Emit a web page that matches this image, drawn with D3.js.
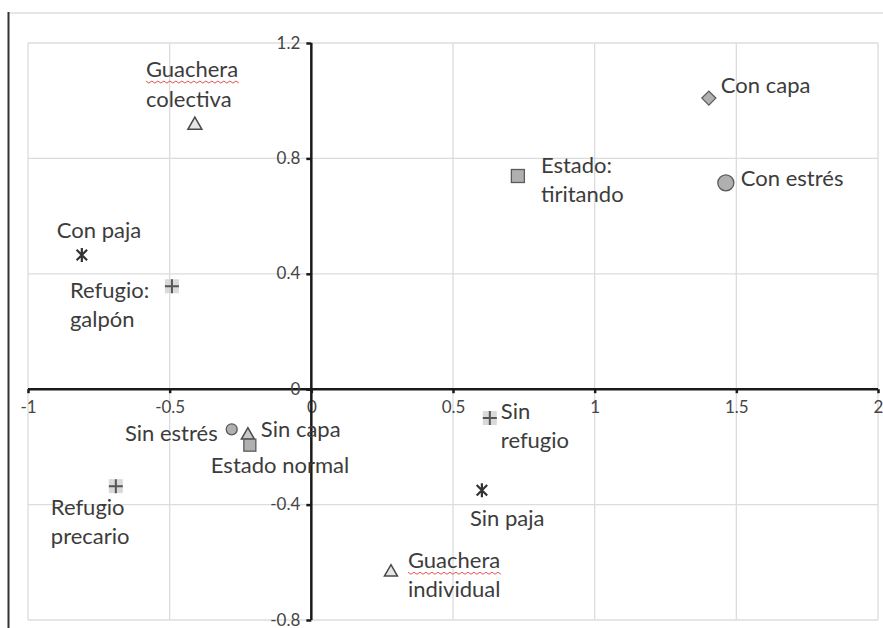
<!DOCTYPE html>
<html lang="es">
<head>
<meta charset="UTF-8">
<title>Análisis de correspondencias</title>
<script src="https://d3js.org/d3.v7.min.js"></script>
<style>
  body { margin: 0; background: #fff; }
  text { font-family: Lato, "Open Sans", sans-serif; }
</style>
</head>
<body>
<svg id="chart" width="883" height="628"></svg>
<script>
// data
const labels = ["Guachera colectiva", "Con capa", "Con estrés", "Estado: tiritando", "Con paja",
  "Refugio: galpón", "Sin estrés", "Sin capa", "Estado normal", "Sin refugio",
  "Refugio precario", "Sin paja", "Guachera individual"];
const xValues = [-0.411, 1.403, 1.463, 0.729, -0.81, -0.492, -0.281, -0.224, -0.217, 0.63, -0.69, 0.602, 0.281];
const yValues = [0.919, 1.009, 0.715, 0.739, 0.465, 0.357, -0.139, -0.156, -0.194, -0.10, -0.336, -0.35, -0.631];
const markers = ["triangle", "diamond", "circle", "square", "star", "plus", "circle", "triangle", "square", "plus", "plus", "star", "triangle"];
const xTicks = [-1, -0.5, 0, 0.5, 1, 1.5, 2];
const yTicks = [-0.8, -0.4, 0, 0.4, 0.8, 1.2];

// label placement: lines, dx, baseline dy of each line, anchor
const labelLayout = [
  { lines: ["Guachera", "colectiva"], dx: -49, dy: [-47, -17], anchor: "start", squiggle: true },
  { lines: ["Con capa"], dx: 12, dy: [-5], anchor: "start" },
  { lines: ["Con estrés"], dx: 15, dy: [3], anchor: "start" },
  { lines: ["Estado:", "tiritando"], dx: 23, dy: [-3, 26], anchor: "start" },
  { lines: ["Con paja"], dx: -25, dy: [-17], anchor: "start" },
  { lines: ["Refugio:", "galpón"], dx: -102, dy: [12, 41], anchor: "start" },
  { lines: ["Sin estrés"], dx: -14, dy: [12], anchor: "end" },
  { lines: ["Sin capa"], dx: 13, dy: [3], anchor: "start" },
  { lines: ["Estado normal"], dx: -39, dy: [28], anchor: "start" },
  { lines: ["Sin", "refugio"], dx: 11, dy: [1, 30], anchor: "start" },
  { lines: ["Refugio", "precario"], dx: -65, dy: [29, 58], anchor: "start" },
  { lines: ["Sin paja"], dx: -12, dy: [36], anchor: "start" },
  { lines: ["Guachera", "individual"], dx: 17, dy: [-3, 26], anchor: "start", squiggle: true }
];
const markerSize = [7, 7, 8, 6.5, 7, 7, 5.5, 6.5, 6, 7, 7, 7, 6.5];

const svg = d3.select("#chart");
const x = d3.scaleLinear().domain([-1, 2]).range([28, 878]);
const y = d3.scaleLinear().domain([-0.8, 1.2]).range([620, 43]);

// frame of the screenshot
svg.append("line").attr("x1", 8).attr("x2", 883).attr("y1", 13).attr("y2", 13)
  .attr("stroke", "#dedede").attr("stroke-width", 1.5);
svg.append("line").attr("x1", 8.5).attr("x2", 8.5).attr("y1", 12).attr("y2", 628)
  .attr("stroke", "#333").attr("stroke-width", 2);

// grid
const grid = svg.append("g").attr("stroke", "#dcdcdc").attr("stroke-width", 1.3);
grid.selectAll("line.v").data(xTicks).join("line")
  .attr("x1", d => x(d)).attr("x2", d => x(d)).attr("y1", y(1.2)).attr("y2", y(-0.8));
grid.selectAll("line.h").data(yTicks).join("line")
  .attr("x1", x(-1)).attr("x2", x(2)).attr("y1", d => y(d)).attr("y2", d => y(d));

// axes through the origin
const fmt = d => String(d);
const xAxis = svg.append("g").attr("transform", `translate(0,${y(0)})`)
  .call(d3.axisBottom(x).tickValues(xTicks).tickSize(4).tickPadding(8).tickFormat(fmt));
const yAxis = svg.append("g").attr("transform", `translate(${x(0)},0)`)
  .call(d3.axisLeft(y).tickValues(yTicks).tickSize(5).tickPadding(6).tickFormat(fmt));
[xAxis, yAxis].forEach(a => {
  a.select(".domain").attr("stroke", "#1a1a1a").attr("stroke-width", 2.5);
  a.selectAll(".tick line").attr("stroke", "#1a1a1a").attr("stroke-width", 2.5);
  a.selectAll(".tick text").attr("fill", "#454545").style("font-size", "17px")
    .style("font-family", "Lato, sans-serif");
});
xAxis.select(".domain").attr("d", `M${x(-1)},0H${x(2)}`);
yAxis.select(".domain").attr("d", `M0,${y(1.2)}V${y(-0.8)}`);
yAxis.selectAll(".tick text").attr("dy", "0.3em");

// markers
const pts = labels.map((l, i) => ({ label: l, x: xValues[i], y: yValues[i], m: markers[i], s: markerSize[i], lay: labelLayout[i] }));
const g = svg.append("g");
pts.forEach(p => {
  const cx = x(p.x), cy = y(p.y), s = p.s;
  const mg = g.append("g").attr("transform", `translate(${cx},${cy})`);
  if (p.m === "circle") {
    mg.append("circle").attr("r", s).attr("fill", "#b0b0b0").attr("stroke", "#5a5a5a").attr("stroke-width", 1.3);
  } else if (p.m === "diamond") {
    mg.append("path").attr("d", `M0,${-s}L${s},0L0,${s}L${-s},0Z`)
      .attr("fill", "#b0b0b0").attr("stroke", "#5a5a5a").attr("stroke-width", 1.3);
  } else if (p.m === "square") {
    mg.append("rect").attr("x", -s).attr("y", -s).attr("width", 2 * s).attr("height", 2 * s)
      .attr("fill", "#b0b0b0").attr("stroke", "#5a5a5a").attr("stroke-width", 1.3);
  } else if (p.m === "triangle") {
    mg.append("path").attr("d", `M0,${-s}L${s},${s * 0.75}L${-s},${s * 0.75}Z`)
      .attr("fill", p.label === "Sin capa" ? "#c8c8c8" : "#e6e6e6").attr("stroke", "#4a4a4a").attr("stroke-width", 1.5);
  } else if (p.m === "plus") {
    mg.append("rect").attr("x", -s).attr("y", -s).attr("width", 2 * s).attr("height", 2 * s)
      .attr("fill", "#cfcfcf").attr("opacity", 0.8);
    mg.append("path").attr("d", `M${-s},0H${s}M0,${-s}V${s}`).attr("stroke", "#555").attr("stroke-width", 2);
  } else if (p.m === "star") {
    const k = s * 0.75;
    mg.append("path").attr("d", `M${-k},${-k}L${k},${k}M${-k},${k}L${k},${-k}M0,${-s}V${s}`)
      .attr("stroke", "#333").attr("stroke-width", 2.2);
  }
});

// labels
pts.forEach(p => {
  const cx = x(p.x), cy = y(p.y), L = p.lay;
  L.lines.forEach((line, j) => {
    const t = svg.append("text")
      .attr("x", cx + L.dx).attr("y", cy + L.dy[j])
      .attr("text-anchor", L.anchor)
      .attr("fill", "#3c3c3c").style("font-size", "22px")
      .text(line);
    if (L.squiggle && j === 0) {
      const w = t.node().getComputedTextLength();
      const x0 = cx + L.dx, yb = cy + L.dy[j] + 4;
      let d = `M${x0},${yb}`;
      for (let k = 0; k * 3 < w; k++) d += `L${x0 + (k + 1) * 3},${yb + (k % 2 ? 0 : 2)}`;
      svg.append("path").attr("d", d).attr("fill", "none").attr("stroke", "#e04040").attr("stroke-width", 0.9);
    }
  });
});
</script>
</body>
</html>
